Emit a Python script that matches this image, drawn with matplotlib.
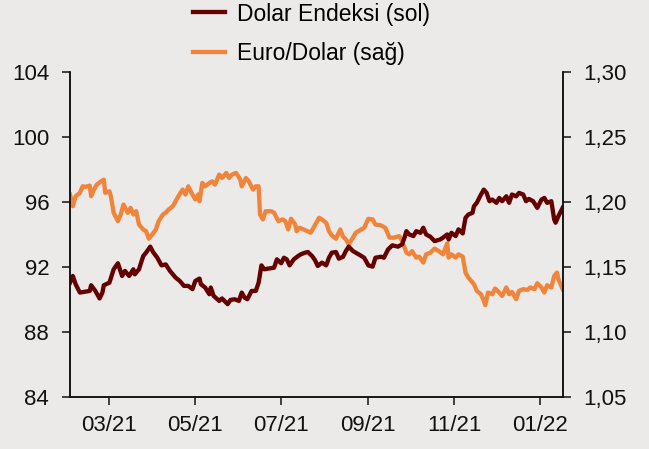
"""
Dolar Endeksi (sol) vs Euro/Dolar (sag) - dual axis line chart.
"""

import matplotlib

matplotlib.use("Agg")
import matplotlib.dates as mdates
import matplotlib.pyplot as plt
import pandas as pd
from matplotlib.ticker import FuncFormatter, MultipleLocator

plt.rcParams["font.family"] = ["Liberation Sans", "DejaVu Sans"]

# values
dxy_dates = [
    "2021-02-01", "2021-02-03", "2021-02-05", "2021-02-08", "2021-02-11", "2021-02-15",
    "2021-02-16", "2021-02-19", "2021-02-22", "2021-02-24", "2021-02-25", "2021-03-01",
    "2021-03-04", "2021-03-07", "2021-03-10", "2021-03-12", "2021-03-15", "2021-03-18",
    "2021-03-19", "2021-03-22", "2021-03-25", "2021-03-27", "2021-03-30", "2021-04-01",
    "2021-04-04", "2021-04-07", "2021-04-10", "2021-04-13", "2021-04-17", "2021-04-20",
    "2021-04-23", "2021-04-26", "2021-04-29", "2021-05-01", "2021-05-04", "2021-05-05",
    "2021-05-08", "2021-05-11", "2021-05-12", "2021-05-14", "2021-05-18", "2021-05-20",
    "2021-05-24", "2021-05-26", "2021-05-29", "2021-06-01", "2021-06-03", "2021-06-05",
    "2021-06-07", "2021-06-10", "2021-06-13", "2021-06-15", "2021-06-17", "2021-06-19",
    "2021-06-22", "2021-06-26", "2021-06-28", "2021-07-01", "2021-07-03", "2021-07-05",
    "2021-07-07", "2021-07-10", "2021-07-13", "2021-07-15", "2021-07-18", "2021-07-20",
    "2021-07-23", "2021-07-25", "2021-07-27", "2021-07-30", "2021-08-02", "2021-08-04",
    "2021-08-06", "2021-08-09", "2021-08-11", "2021-08-14", "2021-08-16", "2021-08-18",
    "2021-08-21", "2021-08-23", "2021-08-25", "2021-08-29", "2021-09-01", "2021-09-04",
    "2021-09-06", "2021-09-10", "2021-09-12", "2021-09-15", "2021-09-18", "2021-09-22",
    "2021-09-25", "2021-09-27", "2021-09-28", "2021-09-30", "2021-10-03", "2021-10-05",
    "2021-10-08", "2021-10-10", "2021-10-12", "2021-10-15", "2021-10-18", "2021-10-22",
    "2021-10-24", "2021-10-27", "2021-10-28", "2021-10-30", "2021-11-02", "2021-11-04",
    "2021-11-07", "2021-11-09", "2021-11-11", "2021-11-14", "2021-11-15", "2021-11-17",
    "2021-11-20", "2021-11-22", "2021-11-24", "2021-11-26", "2021-11-28", "2021-12-01",
    "2021-12-03", "2021-12-05", "2021-12-08", "2021-12-10", "2021-12-12", "2021-12-15",
    "2021-12-17", "2021-12-20", "2021-12-22", "2021-12-24", "2021-12-27", "2021-12-30",
    "2022-01-02", "2022-01-04", "2022-01-06", "2022-01-09", "2022-01-11", "2022-01-12",
    "2022-01-14", "2022-01-17",
]
dxy_values = [
    91.04, 91.45, 90.94, 90.43, 90.47, 90.53, 90.88, 90.53, 90.07, 90.43, 90.88, 91.04,
    91.86, 92.23, 91.45, 91.76, 91.45, 91.86, 91.55, 91.86, 92.67, 92.88, 93.25, 92.92,
    92.57, 92.10, 92.16, 91.76, 91.35, 91.14, 90.84, 90.84, 90.64, 91.14, 91.29, 90.94,
    90.74, 90.33, 90.74, 90.23, 89.92, 90.07, 89.72, 89.98, 90.02, 89.92, 90.43, 90.13,
    90.02, 90.53, 90.53, 91.04, 92.10, 91.86, 91.90, 91.96, 92.47, 92.23, 92.57, 92.47,
    92.10, 92.47, 92.67, 92.78, 92.88, 92.92, 92.67, 92.43, 92.06, 92.27, 92.10, 92.57,
    92.88, 92.92, 92.51, 92.63, 92.98, 93.25, 92.98, 92.88, 92.78, 92.57, 92.10, 92.02,
    92.57, 92.63, 92.57, 93.08, 93.33, 93.25, 93.39, 93.90, 94.20, 94.00, 93.90, 94.20,
    94.10, 94.41, 94.00, 93.86, 93.59, 93.69, 93.80, 94.00, 93.69, 94.10, 93.90, 94.31,
    94.06, 95.02, 95.22, 95.33, 95.73, 95.94, 96.45, 96.75, 96.55, 96.04, 96.14, 95.94,
    96.24, 96.04, 96.34, 95.94, 96.45, 96.34, 96.55, 96.45, 96.04, 96.18, 96.04, 95.63,
    96.14, 96.24, 95.94, 96.04, 94.92, 94.72, 95.12, 95.63,
]

eur_dates = [
    "2021-02-01", "2021-02-03", "2021-02-05", "2021-02-08", "2021-02-10", "2021-02-12",
    "2021-02-15", "2021-02-16", "2021-02-18", "2021-02-20", "2021-02-23", "2021-02-25",
    "2021-02-26", "2021-03-01", "2021-03-02", "2021-03-04", "2021-03-07", "2021-03-09",
    "2021-03-11", "2021-03-14", "2021-03-16", "2021-03-18", "2021-03-20", "2021-03-22",
    "2021-03-25", "2021-03-27", "2021-03-29", "2021-04-01", "2021-04-03", "2021-04-05",
    "2021-04-08", "2021-04-10", "2021-04-12", "2021-04-15", "2021-04-17", "2021-04-19",
    "2021-04-22", "2021-04-24", "2021-04-26", "2021-04-29", "2021-05-01", "2021-05-03",
    "2021-05-04", "2021-05-06", "2021-05-08", "2021-05-11", "2021-05-13", "2021-05-15",
    "2021-05-18", "2021-05-20", "2021-05-23", "2021-05-25", "2021-05-27", "2021-05-30",
    "2021-06-02", "2021-06-03", "2021-06-06", "2021-06-08", "2021-06-11", "2021-06-13",
    "2021-06-15", "2021-06-16", "2021-06-18", "2021-06-20", "2021-06-24", "2021-06-26",
    "2021-06-29", "2021-07-02", "2021-07-04", "2021-07-06", "2021-07-08", "2021-07-11",
    "2021-07-12", "2021-07-14", "2021-07-17", "2021-07-22", "2021-07-24", "2021-07-28",
    "2021-07-30", "2021-08-02", "2021-08-04", "2021-08-06", "2021-08-09", "2021-08-12",
    "2021-08-14", "2021-08-16", "2021-08-18", "2021-08-21", "2021-08-23", "2021-08-27",
    "2021-08-29", "2021-09-01", "2021-09-04", "2021-09-06", "2021-09-10", "2021-09-13",
    "2021-09-16", "2021-09-19", "2021-09-23", "2021-09-25", "2021-09-28", "2021-09-30",
    "2021-10-02", "2021-10-05", "2021-10-07", "2021-10-10", "2021-10-12", "2021-10-15",
    "2021-10-18", "2021-10-21", "2021-10-24", "2021-10-27", "2021-10-28", "2021-10-30",
    "2021-11-02", "2021-11-04", "2021-11-07", "2021-11-09", "2021-11-11", "2021-11-15",
    "2021-11-17", "2021-11-20", "2021-11-22", "2021-11-23", "2021-11-25", "2021-11-28",
    "2021-11-30", "2021-12-03", "2021-12-05", "2021-12-08", "2021-12-10", "2021-12-12",
    "2021-12-15", "2021-12-17", "2021-12-20", "2021-12-23", "2021-12-25", "2021-12-28",
    "2021-12-30", "2022-01-02", "2022-01-04", "2022-01-06", "2022-01-09", "2022-01-11",
    "2022-01-13", "2022-01-14", "2022-01-17",
]
eur_values = [
    1.2056, 1.1966, 1.2043, 1.2069, 1.2119, 1.2115, 1.2125, 1.2043, 1.2094, 1.2132,
    1.2157, 1.2170, 1.2069, 1.2081, 1.2043, 1.1916, 1.1852, 1.1903, 1.1979, 1.1916,
    1.1954, 1.1903, 1.1928, 1.1826, 1.1788, 1.1775, 1.1717, 1.1758, 1.1788, 1.1852,
    1.1903, 1.1916, 1.1941, 1.1966, 1.2005, 1.2043, 1.2094, 1.2056, 1.2119, 1.2056,
    1.2018, 1.2056, 1.2005, 1.2145, 1.2119, 1.2145, 1.2157, 1.2132, 1.2209, 1.2183,
    1.2222, 1.2183, 1.2209, 1.2222, 1.2170, 1.2119, 1.2183, 1.2157, 1.2094, 1.2119,
    1.2119, 1.1903, 1.1865, 1.1928, 1.1928, 1.1916, 1.1852, 1.1865, 1.1852, 1.1788,
    1.1870, 1.1826, 1.1775, 1.1801, 1.1788, 1.1763, 1.1801, 1.1878, 1.1865, 1.1839,
    1.1775, 1.1742, 1.1717, 1.1788, 1.1732, 1.1712, 1.1674, 1.1725, 1.1763, 1.1788,
    1.1801, 1.1870, 1.1865, 1.1826, 1.1819, 1.1801, 1.1725, 1.1725, 1.1737, 1.1699,
    1.1610, 1.1597, 1.1622, 1.1572, 1.1580, 1.1534, 1.1597, 1.1610, 1.1641, 1.1622,
    1.1597, 1.1681, 1.1572, 1.1597, 1.1572, 1.1597, 1.1580, 1.1457, 1.1419, 1.1368,
    1.1317, 1.1291, 1.1240, 1.1207, 1.1304, 1.1291, 1.1335, 1.1304, 1.1278, 1.1343,
    1.1291, 1.1309, 1.1253, 1.1317, 1.1330, 1.1324, 1.1343, 1.1330, 1.1375, 1.1343,
    1.1304, 1.1360, 1.1343, 1.1431, 1.1457, 1.1406, 1.1330,
]

dxy_label = "Dolar Endeksi (sol)"
eur_label = "Euro/Dolar (sağ)"
x_ticks = ["2021-03-01", "2021-05-01", "2021-07-01", "2021-09-01", "2021-11-01", "2022-01-01"]

bg = "#ECEAE8"
dark_red = "#650000"
orange = "#F0843A"

fig = plt.figure(figsize=(6.49, 4.49), dpi=100, facecolor=bg)
ax = fig.add_axes([0.1079, 0.1151, 0.759, 0.7256], facecolor=bg)
ax2 = ax.twinx()

l1, = ax.plot(pd.to_datetime(dxy_dates), dxy_values, color=dark_red, lw=3.1, label=dxy_label)
l2, = ax2.plot(pd.to_datetime(eur_dates), eur_values, color=orange, lw=3.1, label=eur_label)
ax.set_zorder(ax2.get_zorder() + 1)
ax.patch.set_visible(False)

ax.set_xlim(pd.Timestamp("2021-02-01"), pd.Timestamp("2022-01-17"))
ax.set_ylim(84, 104)
ax2.set_ylim(1.05, 1.30)
ax.yaxis.set_major_locator(MultipleLocator(4))
ax2.yaxis.set_major_locator(MultipleLocator(0.05))
ax2.yaxis.set_major_formatter(FuncFormatter(lambda v, p: f"{v:.2f}".replace(".", ",")))
ax.set_xticks(pd.to_datetime(x_ticks))
ax.xaxis.set_major_formatter(mdates.DateFormatter("%m/%y"))

for a in (ax, ax2):
    a.spines["top"].set_visible(False)
    for s in a.spines.values():
        s.set_linewidth(1.1)
        s.set_color("#111111")
    a.tick_params(direction="out", length=5.5, width=1.1, labelsize=16,
                  colors="#111111", pad=9.5)
ax.tick_params(axis="x", pad=7)

fig.legend([l1, l2], [dxy_label, eur_label], loc="upper left",
           bbox_to_anchor=(193 / 649, 1 - 2.5 / 449), frameon=False, fontsize=16.5,
           handlelength=1.4, handletextpad=0.5, labelspacing=0.72,
           borderpad=0, borderaxespad=0)

plt.savefig("out.png", dpi=100, facecolor=bg)
